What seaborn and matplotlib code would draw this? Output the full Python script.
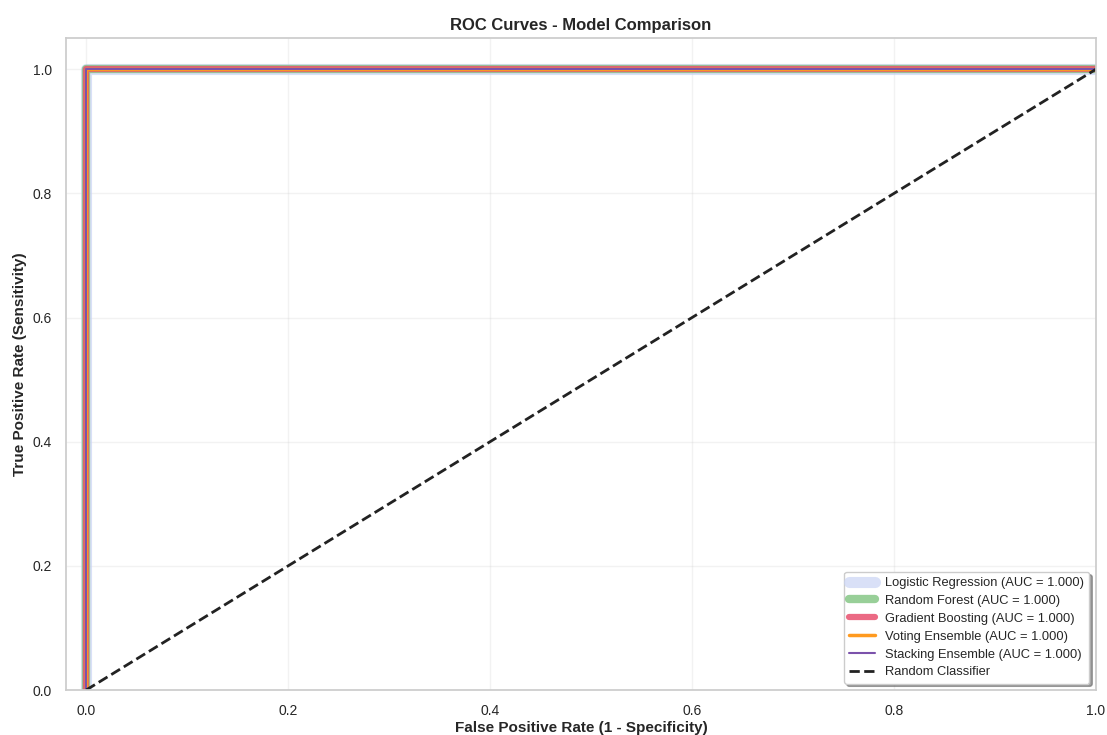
import numpy as np
import pandas as pd
import seaborn as sns
import matplotlib
matplotlib.use("Agg")
import matplotlib.pyplot as plt

sns.set_theme(style="whitegrid")
plt.rcParams['font.family'] = ['Arial', 'Liberation Sans', 'DejaVu Sans']

models = ["Logistic Regression", "Random Forest", "Gradient Boosting",
          "Voting Ensemble", "Stacking Ensemble"]
aucs = [1.000, 1.000, 1.000, 1.000, 1.000]
fpr = [0.0, 0.0, 1.0]
tpr = [0.0, 1.0, 1.0]
colors = ["#c9d4f5", "#7fc47f", "#e8506e", "#ff9a1f", "#7b52ab"]
widths = [8, 6, 4.5, 2.5, 1.5]
alphas = [0.7, 0.8, 0.85, 1.0, 1.0]

fig = plt.figure(figsize=(11.07, 7.35), dpi=100)
ax = fig.add_axes([0.0596, 0.0612, 0.9304, 0.8868])

for m, a, c, w, al in zip(models, aucs, colors, widths, alphas):
    df = pd.DataFrame({"fpr": fpr, "tpr": tpr})
    sns.lineplot(data=df, x="fpr", y="tpr", ax=ax, color=c, linewidth=w,
                 alpha=al, sort=False, estimator=None,
                 label=f"{m} (AUC = {a:.3f})")

sns.lineplot(x=[0, 1], y=[0, 1], ax=ax, color="#222222", linestyle="--",
             linewidth=2, label="Random Classifier")

ax.set_xlim(-0.02, 1.0)
ax.set_ylim(0.0, 1.05)
ax.set_xlabel("False Positive Rate (1 - Specificity)", fontsize=11, fontweight="bold", labelpad=2)
ax.set_ylabel("True Positive Rate (Sensitivity)", fontsize=11, fontweight="bold")
ax.set_title("ROC Curves - Model Comparison", fontsize=12, fontweight="bold", pad=6)
ax.tick_params(labelsize=10, pad=4)
ax.grid(True, alpha=0.25)
ax.legend(loc="lower right", fontsize=9.3, frameon=True, shadow=True,
          fancybox=True, framealpha=1.0, borderpad=0.4, labelspacing=0.45,
          handlelength=2.0)

fig.savefig("out.png", dpi=100)
